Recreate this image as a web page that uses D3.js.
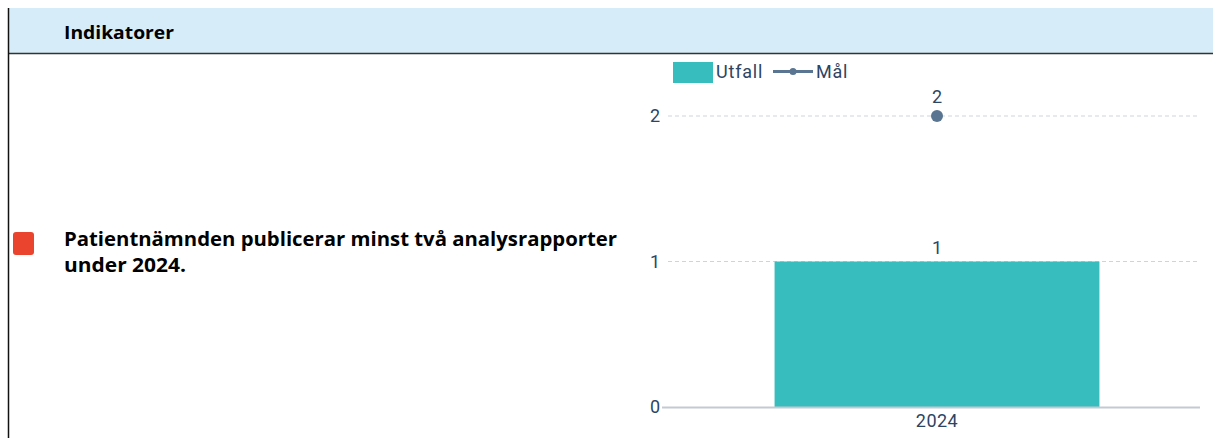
<!DOCTYPE html>
<html>
<head>
<meta charset="utf-8">
<script src="https://cdn.jsdelivr.net/npm/d3@7"></script>
<style>
body { margin: 0; background: #fff; }
svg { display: block; }
</style>
</head>
<body>
<script>
// chart values
var categories = ["2024"];
var utfall = [1];
var mal = [2];
var yTicks = [0, 1, 2];
var indicatorText = ["Patientnämnden publicerar minst två analysrapporter", "under 2024."];

var width = 1213, height = 438;

var svg = d3.select("body").append("svg")
    .attr("width", width)
    .attr("height", height);

// header band
svg.append("rect")
    .attr("x", 8).attr("y", 8)
    .attr("width", width - 8).attr("height", 45)
    .attr("fill", "#d6edf9");
svg.append("line")
    .attr("x1", 8).attr("x2", width)
    .attr("y1", 53.5).attr("y2", 53.5)
    .attr("stroke", "#333").attr("stroke-width", 1.5);
svg.append("line")
    .attr("x1", 8.5).attr("x2", 8.5)
    .attr("y1", 8).attr("y2", height)
    .attr("stroke", "#111").attr("stroke-width", 1.5);
svg.append("text")
    .attr("x", 64).attr("y", 38.5)
    .attr("font-family", "Open Sans, sans-serif")
    .attr("font-weight", "bold")
    .attr("font-size", 18)
    .attr("textLength", 110)
    .attr("lengthAdjust", "spacingAndGlyphs")
    .attr("fill", "#000")
    .text("Indikatorer");

// status square
svg.append("rect")
    .attr("x", 13).attr("y", 232)
    .attr("width", 21).attr("height", 23)
    .attr("rx", 3)
    .attr("fill", "#ea442f");

svg.selectAll(".indText")
    .data(indicatorText)
    .enter()
    .append("text")
    .attr("class", "indText")
    .attr("x", 64)
    .attr("y", function(d, i){ return 245.5 + i * 26; })
    .attr("font-family", "Open Sans, sans-serif")
    .attr("font-weight", "bold")
    .attr("font-size", 19.5)
    .attr("textLength", function(d, i){ return i == 0 ? 553 : 122; })
    .attr("lengthAdjust", "spacingAndGlyphs")
    .attr("fill", "#000")
    .text(function(d){ return d; });

// chart
var x = d3.scaleBand()
    .domain(categories)
    .range([668, 1206])
    .paddingInner(0.247)
    .paddingOuter(0.247);

var y = d3.scaleLinear()
    .domain([0, 2])
    .range([407, 116]);

var textColor = "#2c4563";
var font = "Roboto, sans-serif";
var fs = 18;

// grid
svg.selectAll(".grid")
    .data(yTicks.filter(function(d){ return d > 0; }))
    .enter()
    .append("line")
    .attr("class", "grid")
    .attr("x1", 668).attr("x2", 1200)
    .attr("y1", function(d){ return y(d); })
    .attr("y2", function(d){ return y(d); })
    .attr("stroke", "#cfd4d9")
    .attr("stroke-dasharray", "4,3");

var yAxis = svg.append("g")
    .attr("transform", "translate(662,0)")
    .call(d3.axisLeft(y).tickValues(yTicks).tickSize(0).tickPadding(2).tickFormat(d3.format("d")));
yAxis.select(".domain").remove();
yAxis.selectAll("text")
    .attr("font-family", font)
    .attr("font-size", fs)
    .attr("fill", textColor);

// bars
svg.selectAll(".bar")
    .data(utfall)
    .enter()
    .append("rect")
    .attr("class", "bar")
    .attr("x", function(d, i){ return x(categories[i]); })
    .attr("width", x.bandwidth())
    .attr("y", function(d){ return y(d); })
    .attr("height", function(d){ return y(0) - y(d); })
    .attr("fill", "#37bdbd");

svg.selectAll(".barLabel")
    .data(utfall)
    .enter()
    .append("text")
    .attr("class", "barLabel")
    .attr("x", function(d, i){ return x(categories[i]) + x.bandwidth() / 2; })
    .attr("y", function(d){ return y(d) - 8; })
    .attr("text-anchor", "middle")
    .attr("font-family", font)
    .attr("font-size", fs)
    .attr("fill", textColor)
    .text(function(d){ return d; });

// baseline axis
var xAxis = svg.append("g")
    .attr("transform", "translate(0," + y(0) + ")")
    .call(d3.axisBottom(x).tickSize(0).tickPadding(7));
xAxis.select(".domain")
    .attr("d", "M662,0.5H1200")
    .attr("stroke", "#c3cad2")
    .attr("stroke-width", 2);
xAxis.selectAll("text")
    .attr("font-family", font)
    .attr("font-size", fs)
    .attr("letter-spacing", 0.5)
    .attr("fill", textColor);

// goal points
svg.selectAll(".goal")
    .data(mal)
    .enter()
    .append("circle")
    .attr("class", "goal")
    .attr("cx", function(d, i){ return x(categories[i]) + x.bandwidth() / 2; })
    .attr("cy", function(d){ return y(d); })
    .attr("r", 6)
    .attr("fill", "#5a7591");

svg.selectAll(".goalLabel")
    .data(mal)
    .enter()
    .append("text")
    .attr("class", "goalLabel")
    .attr("x", function(d, i){ return x(categories[i]) + x.bandwidth() / 2; })
    .attr("y", function(d){ return y(d) - 13; })
    .attr("text-anchor", "middle")
    .attr("font-family", font)
    .attr("font-size", fs)
    .attr("fill", textColor)
    .text(function(d){ return d; });

// legend
var legend = svg.append("g");
legend.append("rect")
    .attr("x", 673).attr("y", 62)
    .attr("width", 40).attr("height", 21)
    .attr("fill", "#37bdbd");
legend.append("text")
    .attr("x", 716).attr("y", 78)
    .attr("font-family", font)
    .attr("font-size", fs)
    .attr("letter-spacing", 0.8)
    .attr("fill", textColor)
    .text("Utfall");
legend.append("line")
    .attr("x1", 773).attr("x2", 813)
    .attr("y1", 71.5).attr("y2", 71.5)
    .attr("stroke", "#5a7591").attr("stroke-width", 3);
legend.append("circle")
    .attr("cx", 793).attr("cy", 71.5).attr("r", 3.5)
    .attr("fill", "#5a7591");
legend.append("text")
    .attr("x", 816).attr("y", 78)
    .attr("font-family", font)
    .attr("font-size", fs)
    .attr("letter-spacing", 0.8)
    .attr("fill", textColor)
    .text("Mål");
</script>
</body>
</html>
